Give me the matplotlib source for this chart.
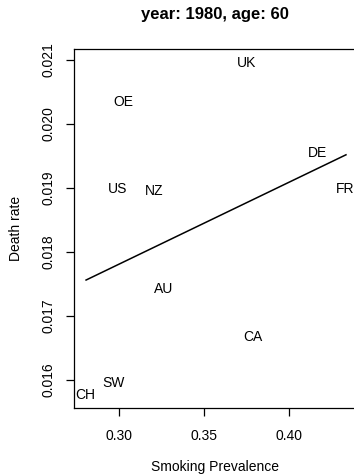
import matplotlib
matplotlib.use("Agg")
import numpy as np
from matplotlib import pyplot as plt

plt.rcParams["font.family"] = ["Liberation Sans", "DejaVu Sans"]

countries = ["UK", "OE", "DE", "US", "NZ", "FR", "AU", "CA", "SW", "CH"]
smoking = [0.3753, 0.3024, 0.4165, 0.2994, 0.3206, 0.4330, 0.3265, 0.3788, 0.2965, 0.2800]
death_rate = [0.02095, 0.02034, 0.01955, 0.01898, 0.01895, 0.01898, 0.01742, 0.01667, 0.01595, 0.01577]

# fitted line (intercept, slope) and its x range
fit_coef = [0.013968, 0.0128]
fit_range = [0.2806, 0.4335]

x_ticks = [0.30, 0.35, 0.40]
y_ticks = [0.016, 0.017, 0.018, 0.019, 0.020, 0.021]

fig = plt.figure(figsize=(3.54, 4.76), dpi=100)
ax = fig.add_axes([74 / 354, 1 - 408 / 476, (356 - 74) / 354, (408 - 49) / 476])

for name, x, y in zip(countries, smoking, death_rate):
    ax.text(x, y, name, ha="center", va="center", fontsize=10)

xs = np.array(fit_range)
ax.plot(xs, fit_coef[0] + fit_coef[1] * xs, color="black", lw=1.1)

ax.set_xlim(0.2735, 0.4394)
ax.set_ylim(0.01556, 0.02117)
ax.set_xticks(x_ticks)
ax.set_xticklabels(["0.30", "0.35", "0.40"])
ax.set_yticks(y_ticks)
ax.set_yticklabels(["0.016", "0.017", "0.018", "0.019", "0.020", "0.021"],
                   rotation=90, va="center")
ax.tick_params(length=5.5, width=0.9, labelsize=10, pad=8)
ax.tick_params(axis="x", pad=9.5)
ax.spines["right"].set_visible(False)
for s in ["left", "bottom", "top"]:
    ax.spines[s].set_linewidth(0.9)

ax.set_xlabel("Smoking Prevalence", fontsize=10, labelpad=12.5)
ax.set_ylabel("Death rate", fontsize=10, labelpad=13)
fig.text(215 / 354, 1 - 15 / 476, "year: 1980, age: 60", ha="center", va="center",
         fontsize=12, fontweight="bold")

fig.savefig("out.png", dpi=100)
